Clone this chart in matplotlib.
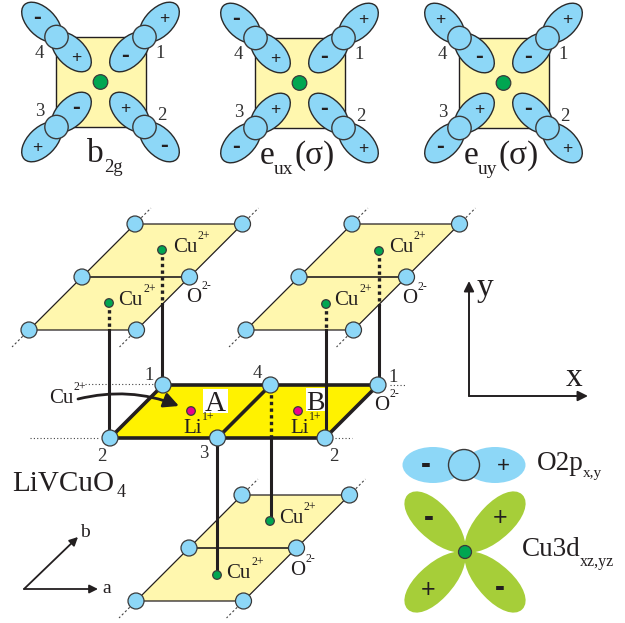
import numpy as np
import matplotlib
matplotlib.use("Agg")
import matplotlib.pyplot as plt
from matplotlib.patches import Ellipse, Circle, Polygon, Rectangle, FancyArrowPatch, PathPatch
from matplotlib.path import Path

plt.rcParams['font.family'] = ['Liberation Serif', 'DejaVu Serif']

DARK = '#231f20'
O_BLUE = '#8dd7f7'
PALE = '#fff7ae'
YELLOW = '#fff200'
GREEN = '#00a651'
PINK = '#ec008c'
LEAF = '#a6ce39'

# orbital panels: signs are (outer, inner) for the oxygens 1, 2, 3, 4
panel_names = [('b', '2g', ''), ('e', 'ux', '(σ)'), ('e', 'uy', '(σ)')]
panel_x = [0, 199, 403]
panel_y = [0, 1, 1]
panel_signs = [
    [('+', '-'), ('-', '+'), ('+', '-'), ('-', '+')],
    [('+', '-'), ('+', '-'), ('-', '+'), ('-', '+')],
    [('+', '-'), ('+', '-'), ('-', '+'), ('+', '-')],
]
corner_names = ['1', '2', '3', '4']
corner_dirs = [(1, -1), (1, 1), (-1, 1), (-1, -1)]
corner_label_pos = [(160, 52), (162, 114), (40, 110), (39, 52)]

# CuO2 planes, lower left corner of each
plane_origins = [(29, 330), (246, 330), (136, 601)]
cell_a = (107.5, 0)
cell_b = (53, -53)
centre_plane = (110, 438)
li_pos = [(191, 411), (298, 411)]
li_labels = [(183, 433), (290, 433)]
cu_labels = [(118, 305), (173, 252), (334, 305), (389, 252), (226, 578), (279, 523), (49, 403)]
o_labels = [(186, 302), (402, 303), (290, 575), (374, 410)]
site_labels = [(149, 380, '1'), (257, 378, '4'), (393, 382, '1'), (102, 461, '2'),
               (204, 458, '3'), (334, 461, '2')]


def dpt(x, y, s, size, **kw):
    kw.setdefault('color', DARK)
    kw.setdefault('ha', 'left')
    kw.setdefault('va', 'baseline')
    ax.text(x, y, s, fontsize=size, **kw)


def sign(x, y, s, size=12.5):
    # plus and minus signs sit a little differently on the baseline
    if s == '-':
        big = size * 1.35
        ax.text(x, y + 0.26 * big * 1.39, '-', fontsize=big, fontweight='bold', family='Liberation Sans',
                ha='center', va='baseline', color=DARK, zorder=3)
    else:
        ax.text(x, y + 0.33 * size * 1.39, '+', fontsize=size, family='Liberation Sans',
                ha='center', va='baseline', color=DARK, zorder=3)


def atom(x, y, r=7.5, color=O_BLUE, lw=0.9, z=6):
    ax.add_patch(Circle((x, y), r, fc=color, ec='#3a3a3a', lw=lw, zorder=z))


def ion(x, y, base, sup):
    dpt(x, y, base, 15, zorder=8)
    dpt(x + 25, y - 13, sup, 8.5, zorder=8)


def leaf(x, y, angle):
    t = np.radians(angle)
    rot = np.array([[np.cos(t), -np.sin(t)], [np.sin(t), np.cos(t)]])
    pts = np.array([(0, 0), (5, 8), (20, 17), (45, 17.5), (65, 18), (81, 11), (81, 0),
                    (81, -11), (65, -18), (45, -17.5), (20, -17), (5, -8), (0, 0)], float)
    pts = pts @ rot.T + (x, y)
    codes = [Path.MOVETO] + [Path.CURVE4] * 12
    ax.add_patch(PathPatch(Path(pts, codes), fc=LEAF, ec='none', zorder=2))


fig = plt.figure(figsize=(6.25, 6.23), dpi=100)
ax = fig.add_axes([0, 0, 1, 1])
ax.set_xlim(0, 625)
ax.set_ylim(623, 0)
ax.axis('off')

# top row
for dx, dy, signs, name in zip(panel_x, panel_y, panel_signs, panel_names):
    cx, cy = 100.5 + dx, 82 + dy
    ax.add_patch(Rectangle((cx - 45, cy - 45), 90, 90, fc=PALE, ec=DARK, lw=1, zorder=1))
    for (sx, sy), (outer, inner), lab, lp in zip(corner_dirs, signs, corner_names, corner_label_pos):
        ox, oy = cx + 44 * sx, cy + 45 * sy
        ang = -45 if sx * sy < 0 else 45
        for d, s in ((21, outer), (-21, inner)):
            ex, ey = ox + d * 0.707 * sx, oy + d * 0.707 * sy
            ax.add_patch(Ellipse((ex, ey), 49, 28, angle=ang, fc=O_BLUE, ec='#2a2a2a', lw=1, zorder=2))
            sign(ox + d * 0.92 * sx, oy + d * 0.92 * sy, s)
        atom(ox, oy, 11.7, lw=1, z=4)
        dpt(lp[0] + dx, lp[1] + dy + 6, lab, 13.5, ha='center', color='#333333')
    atom(cx, cy, 7.3, GREEN, z=5)
    if name[0] == 'b':
        dpt(87 + dx, 162 + dy, name[0], 24)
        dpt(104 + dx, 172 + dy, name[1], 13.5)
    else:
        dpt(61 + dx, 163 + dy, name[0], 24)
        dpt(75 + dx, 173 + dy, name[1], 14)
        dpt(96 + dx, 163 + dy, name[2], 24)

# three pale planes
for ox, oy in plane_origins:
    a, b = np.array(cell_a), np.array(cell_b)
    o = np.array([ox, oy], float)
    ax.add_patch(Polygon([o, o + a, o + a + 2 * b, o + 2 * b], fc=PALE, ec=DARK, lw=0.9, zorder=1))
    ax.plot(*zip(o + b, o + a + b), color=DARK, lw=1.2, zorder=2)
    for p, q in [(o, o - 0.32 * b), (o + a, o + a - 0.32 * b),
                 (o + 2 * b, o + 2.3 * b), (o + a + 2 * b, o + a + 2.3 * b)]:
        ax.plot(*zip(p, q), color='#444444', lw=0.8, ls=(0, (2, 2)), zorder=2)
    for i in range(2):
        for j in range(3):
            atom(*(o + i * a + j * b), 8)

# central plane
c = np.array(centre_plane, float)
a, b = np.array(cell_a), np.array(cell_b)
ax.add_patch(Polygon([c, c + 2 * a, c + 2 * a + b, c + b], fc=YELLOW, ec=DARK, lw=2.6, joinstyle='miter', zorder=3))
ax.plot(*zip(c + a, c + a + b), color=DARK, lw=2.6, zorder=3)
for x0, x1, y in [(30, 100, 438), (335, 352, 438), (85, 155, 384), (390, 406, 385)]:
    ax.plot([x0, x1], [y, y], color='#444444', lw=0.8, ls=(0, (1, 2)), zorder=2)

# c-axis links, (x, atom y, dotted until, solid until)
links = [(109, 303, 330, 437), (162, 250, 304, 384), (326, 304, 330, 438),
         (379, 251, 305, 385), (271, 521, 438, 385), (217, 575, 575, 438)]
for x, y0, y1, y2 in links:
    if y0 < 400:
        ax.plot([x, x], [y0, y1], color=DARK, lw=2.4, ls=(0, (1, 1)), zorder=4)
        ax.plot([x, x], [y1, y2], color=DARK, lw=2.2, zorder=4)
    elif y1 == y0:
        ax.plot([x, x], [y0, y2], color=DARK, lw=2.2, zorder=5)
    else:
        ax.plot([x, x], [y0, y1], color=DARK, lw=2.2, zorder=5)
        ax.plot([x, x], [y1, y2], color=DARK, lw=2.4, ls=(0, (1, 1)), zorder=5)

for i in range(3):
    for j in range(2):
        atom(*(c + i * a + j * b), 8)
for x, y in [(109, 303), (162, 250), (326, 304), (379, 251), (217, 575), (270, 521)]:
    atom(x, y, 4.3, GREEN, z=7)
for (x, y), (lx, ly) in zip(li_pos, li_labels):
    atom(x, y, 4.3, PINK, z=7)
    dpt(lx, ly, 'Li', 15, zorder=8)
    dpt(lx + 19, ly - 13, '1+', 8.5, zorder=8)

for x, y in cu_labels:
    ion(x, y, 'Cu', '2+')
for x, y in o_labels:
    dpt(x, y, 'O', 15, zorder=8)
    dpt(x + 15, y - 13, '2-', 8.5, zorder=8)

for x, y, s in site_labels:
    dpt(x, y, s, 13.5, ha='center', color='#333333', zorder=8)

ax.add_patch(Rectangle((203, 389), 25, 24, fc='white', ec='none', zorder=7))
ax.add_patch(Rectangle((306, 388), 19, 23, fc='white', ec='none', zorder=3.5))
dpt(215.5, 411, 'A', 21, ha='center', zorder=8)
dpt(315, 410, 'B', 20, ha='center', zorder=8)

ax.add_patch(FancyArrowPatch((78, 399), (179, 406), connectionstyle='arc3,rad=-0.16',
                             arrowstyle='-|>,head_length=9,head_width=4.5', color=DARK, lw=2, zorder=8,
                             shrinkA=0, shrinkB=0))

dpt(12, 491, 'LiVCuO', 21)
dpt(117, 497, '4', 13)

# small lattice arrows
ax.add_patch(FancyArrowPatch((24, 589), (98, 589), arrowstyle='-|>,head_length=5,head_width=2.5', color=DARK, lw=1.3, shrinkA=0, shrinkB=0))
ax.add_patch(FancyArrowPatch((24, 589), (78, 537), arrowstyle='-|>,head_length=5,head_width=2.5', color=DARK, lw=1.3, shrinkA=0, shrinkB=0))
dpt(102, 593, 'a', 14)
dpt(80, 537, 'b', 14)

# x y axes
ax.add_patch(FancyArrowPatch((469, 396), (469, 281), arrowstyle='-|>,head_length=6,head_width=3', color=DARK, lw=1.4, shrinkA=0, shrinkB=0))
ax.add_patch(FancyArrowPatch((469, 396), (588, 396), arrowstyle='-|>,head_length=6,head_width=3', color=DARK, lw=1.4, shrinkA=0, shrinkB=0))
dpt(477, 296, 'y', 24)
dpt(566, 386, 'x', 24)

# legend orbitals
ax.add_patch(Ellipse((433, 465), 61, 36, fc=O_BLUE, ec='none', zorder=2))
ax.add_patch(Ellipse((495, 465), 61, 36, fc=O_BLUE, ec='none', zorder=2))
atom(464, 465, 15.5, lw=1, z=3)
sign(426, 465, '-', 16)
sign(503, 465, '+', 16)
dpt(537, 470, 'O2p', 19.5)
dpt(583, 477, 'x,y', 11)

for ang in (45, 135, 225, 315):
    leaf(465, 552, ang)
atom(465, 552, 6.5, GREEN, z=5)
sign(429, 518, '-', 16)
sign(500, 517, '+', 18)
sign(428, 589, '+', 18)
sign(500, 588, '-', 16)
dpt(522, 556, 'Cu3d', 19.5)
dpt(580, 566, 'xz,yz', 11.5)

fig.savefig('out.png', dpi=100)
